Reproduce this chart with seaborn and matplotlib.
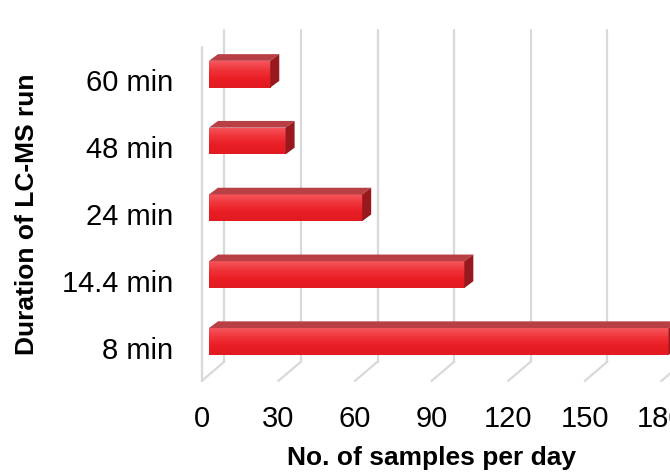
import numpy as np
import pandas as pd
import matplotlib
matplotlib.use("Agg")
import matplotlib.pyplot as plt
from matplotlib.patches import Polygon
from matplotlib.colors import LinearSegmentedColormap
import seaborn as sns

# data: samples per day for each LC-MS run length
durations = ["60 min", "48 min", "24 min", "14.4 min", "8 min"]
samples_per_day = [24, 30, 60, 100, 180]
x_ticks = [0, 30, 60, 90, 120, 150, 180]

df = pd.DataFrame({"duration": durations, "samples": samples_per_day})

sns.set_style("white")
plt.rcParams["font.family"] = ["Liberation Sans", "DejaVu Sans"]
plt.rcParams["text.color"] = "black"
plt.rcParams["axes.labelcolor"] = "black"

fig = plt.figure(figsize=(6.7, 4.76), dpi=100)
W, H = 670, 476
# front plane of the fake 3D box, in pixels
left_px, right_px, bottom_px, top_px = 201.7, 661.3, 381, 47
ax = fig.add_axes([left_px / W, 1 - bottom_px / H,
                   (right_px - left_px) / W, (bottom_px - top_px) / H])

sns.barplot(data=df, x="samples", y="duration", orient="h", width=0.4,
            color="#ec2026", edgecolor="none", ax=ax)
ax.set_xlim(0, 180)
ax.set_ylim(4.5, -0.5)

px_x = (right_px - left_px) / 180.0          # pixels per sample
px_y = (bottom_px - top_px) / len(durations)  # pixels per category

# depth offsets (pixels) converted to data units
bar_shift_x, bar_shift_y = 7.3 / px_x, 6.2 / px_y
bar_dx, bar_dy = 9.0 / px_x, 6.7 / px_y
floor_dx, floor_dy = 22.6 / px_x, 19.3 / px_y
wall_top = -0.5 - 17.0 / px_y

grid_c = "#d9d9d9"
for t in x_ticks:
    # back wall grid line
    ax.plot([t + floor_dx, t + floor_dx], [4.5 - floor_dy, wall_top],
            color=grid_c, lw=1.6, clip_on=False, zorder=0)
    # floor line
    ax.plot([t, t + floor_dx], [4.5, 4.5 - floor_dy],
            color=grid_c, lw=1.6, clip_on=False, zorder=0)
# left wall front edge
ax.plot([0, 0], [4.5, -0.5], color=grid_c, lw=1.6, clip_on=False, zorder=0)

grad = LinearSegmentedColormap.from_list(
    "front", ["#f6575e", "#f0333a", "#ea1d24", "#e11a22"])

for patch in ax.patches:
    patch.set_x(patch.get_x() + bar_shift_x)
    patch.set_y(patch.get_y() - bar_shift_y)
    patch.set_clip_on(False)
    x0, y0 = patch.get_x(), patch.get_y()
    w, h = patch.get_width(), patch.get_height()
    # gradient on the front face
    img = ax.imshow(np.linspace(0, 1, 64).reshape(-1, 1), cmap=grad,
                    extent=[x0, x0 + w, y0 + h, y0], aspect="auto",
                    origin="upper", zorder=3, interpolation="bilinear")
    img.set_clip_path(patch)
    patch.set_zorder(2)
    # top face
    top = Polygon([(x0, y0), (x0 + bar_dx, y0 - bar_dy),
                   (x0 + w + bar_dx, y0 - bar_dy), (x0 + w, y0)],
                  closed=True, facecolor="#b83f44", edgecolor="none",
                  zorder=3, clip_on=False)
    ax.add_patch(top)
    # side face
    side = Polygon([(x0 + w, y0), (x0 + w + bar_dx, y0 - bar_dy),
                    (x0 + w + bar_dx, y0 + h - bar_dy), (x0 + w, y0 + h)],
                   closed=True, facecolor="#97191d", edgecolor="none",
                   zorder=3, clip_on=False)
    ax.add_patch(side)

ax.set_xlim(0, 180)
ax.set_ylim(4.5, -0.5)
ax.set_xticks(x_ticks)
ax.set_xticklabels([str(t) for t in x_ticks])
for s in ax.spines.values():
    s.set_visible(False)
ax.tick_params(axis="both", length=0, labelsize=21, colors="black")
ax.tick_params(axis="x", pad=17.5)
ax.tick_params(axis="y", pad=20.4)
ax.set_xlabel("No. of samples per day", fontsize=19, fontweight="bold", color="black")
ax.set_ylabel("Duration of LC-MS run", fontsize=19, fontweight="bold", color="black")
ax.xaxis.set_label_coords(0.5, (bottom_px - 458) / (bottom_px - top_px))
ax.xaxis.label.set_va("center")
ax.yaxis.set_label_coords((27 - left_px) / (right_px - left_px), 0.5)
ax.yaxis.label.set_va("center")
ax.grid(False)

fig.savefig("out.png", dpi=100)
